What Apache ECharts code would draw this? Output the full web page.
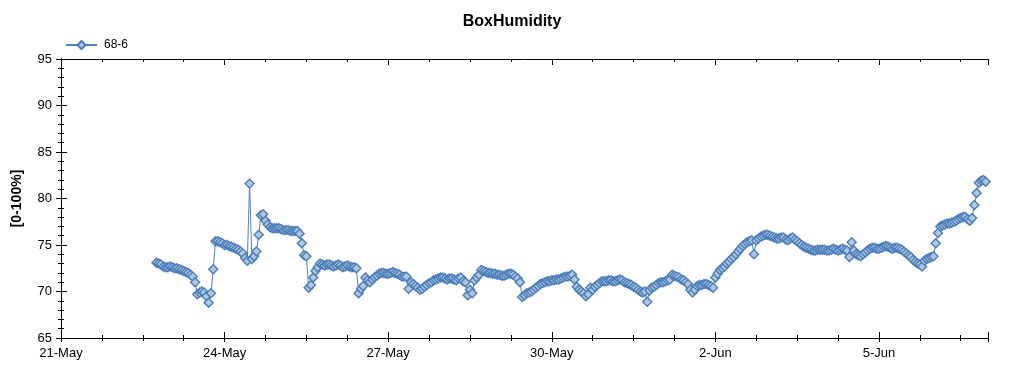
<!DOCTYPE html>
<html>
<head>
<meta charset="utf-8">
<script src="https://cdn.jsdelivr.net/npm/echarts@6/dist/echarts.min.js"></script>
<style>
html,body{margin:0;padding:0;background:#fff;}
#chart{width:1024px;height:375px;}
</style>
</head>
<body>
<div id="chart"></div>
<script>
// Hourly readings; first reading at hour 42 after 21-May 00:00 (22-May 18:00)
const firstHour = 42;
const humidity = [
  73.1,73.0,72.9,72.7,72.6,72.6,
  72.7,72.6,72.5,72.5,72.4,72.3,72.2,72.1,72.0,71.8,71.6,71.0,69.7,69.9,70.0,69.9,69.5,68.8,69.8,72.4,75.4,75.4,75.3,75.2,
  75.0,75.0,74.9,74.8,74.7,74.6,74.5,74.3,74.1,73.6,73.3,81.6,73.5,73.8,74.3,76.1,78.2,78.3,77.6,77.2,76.9,76.8,76.8,76.8,
  76.8,76.7,76.6,76.6,76.6,76.5,76.5,76.5,76.5,76.2,75.2,73.9,73.8,70.4,70.7,71.5,72.2,72.6,73.0,72.9,72.8,72.9,72.9,72.8,
  72.7,72.8,72.9,72.8,72.6,72.7,72.8,72.7,72.6,72.6,72.5,69.8,70.3,70.6,71.5,71.2,71.0,71.3,71.5,71.7,71.9,72.0,72.0,71.9,
  71.9,72.0,72.1,72.0,71.9,71.8,71.6,71.6,71.6,70.3,71.0,70.8,70.6,70.4,70.2,70.3,70.5,70.7,70.9,71.0,71.2,71.3,71.4,71.5,
  71.5,71.4,71.3,71.4,71.4,71.3,71.2,71.4,71.5,71.1,71.0,69.6,70.2,69.8,71.2,71.5,71.8,72.3,72.2,72.1,72.0,72.0,71.9,71.9,
  71.8,71.8,71.7,71.7,71.8,71.9,71.9,71.8,71.6,71.4,71.0,69.4,69.6,69.8,69.9,70.0,70.2,70.4,70.6,70.8,70.9,71.0,71.1,71.1,
  71.2,71.2,71.3,71.3,71.4,71.5,71.6,71.6,71.7,71.8,71.3,70.5,70.2,70.0,69.8,69.5,69.7,70.4,70.2,70.5,70.7,70.9,71.1,71.1,
  71.1,71.2,71.2,71.1,71.1,71.2,71.3,71.2,71.0,70.9,70.8,70.7,70.5,70.4,70.2,70.0,69.9,70.0,68.9,70.1,70.4,70.5,70.7,70.9,
  71.0,71.0,71.1,71.2,71.3,71.8,71.7,71.6,71.5,71.3,71.2,71.0,70.8,70.2,69.9,70.2,70.6,70.7,70.7,70.8,70.8,70.7,70.6,70.4,
  71.5,71.9,72.3,72.5,72.7,73.0,73.2,73.5,73.7,74.0,74.3,74.6,74.9,75.1,75.3,75.4,75.5,74.0,75.5,75.7,75.9,76.0,76.1,76.1,
  76.0,75.9,75.8,75.7,75.7,75.8,75.8,75.6,75.5,75.7,75.8,75.6,75.4,75.2,75.0,74.8,74.7,74.6,74.5,74.4,74.4,74.5,74.5,74.5,
  74.5,74.4,74.4,74.5,74.6,74.5,74.4,74.5,74.6,74.5,74.4,73.7,75.3,74.4,74.0,73.9,73.8,74.0,74.2,74.4,74.6,74.7,74.7,74.6,
  74.6,74.7,74.8,74.9,74.8,74.7,74.6,74.7,74.7,74.6,74.5,74.3,74.1,73.9,73.7,73.4,73.2,73.0,72.9,72.7,73.3,73.5,73.6,73.7,
  73.8,75.2,76.3,77.0,77.1,77.2,77.3,77.3,77.4,77.5,77.6,77.8,77.9,78.0,78.0,77.8,77.6,77.9,79.3,80.6,81.7,81.9,82.0,81.8
];
const tickLabels = ['21-May','24-May','27-May','30-May','2-Jun','5-Jun'];
const seriesName = '68-6';

const data = humidity.map((v, i) => [firstHour + i, v]);
const FONT = '"Liberation Sans", Arial, sans-serif';
const black = '#000';

const xBase = {
  type: 'value', min: 0, max: 408, interval: 72,
  splitLine: { show: false },
  axisLine: { show: true, lineStyle: { color: black, width: 1 } }
};
const yBase = {
  type: 'value', min: 65, max: 95, interval: 5,
  splitLine: { show: false },
  axisLine: { show: true, lineStyle: { color: black, width: 1 } }
};

const chart = echarts.init(document.getElementById('chart'), null, { renderer: 'canvas' });
chart.setOption({
  animation: false,
  backgroundColor: '#fff',
  title: {
    text: 'BoxHumidity', left: 'center', top: 9,
    textStyle: { fontFamily: FONT, fontSize: 16, fontWeight: 'bold', color: black }
  },
  legend: {
    left: 65, top: 39, padding: 0,
    itemWidth: 31, itemHeight: 10, 
    textStyle: { fontFamily: FONT, fontSize: 12, color: black, padding: [0, 0, 0, 2] },
    data: [seriesName]
  },
  grid: { left: 61, right: 36, top: 59, bottom: 37, containLabel: false },
  xAxis: [
    Object.assign({}, xBase, {
      position: 'bottom',
      axisTick: { show: true, inside: true, length: 6, lineStyle: { color: black } },
      minorTick: { show: true, splitNumber: 4, length: 3, lineStyle: { color: black } },
      axisLabel: {
        show: true, margin: 9, showMaxLabel: false, color: black,
        fontFamily: FONT, fontSize: 13,
        formatter: v => tickLabels[Math.round(v / 72)] || ''
      }
    }),
    Object.assign({}, xBase, {
      position: 'bottom',
      axisTick: { show: true, inside: false, length: 4, lineStyle: { color: black } },
      minorTick: { show: true, splitNumber: 4, length: 3, lineStyle: { color: black } },
      axisLabel: { show: false }
    }),
    Object.assign({}, xBase, {
      position: 'top',
      axisTick: { show: true, inside: true, length: 6, lineStyle: { color: black } },
      minorTick: { show: true, splitNumber: 4, length: 3, lineStyle: { color: black } },
      axisLabel: { show: false }
    })
  ],
  yAxis: [
    Object.assign({}, yBase, {
      position: 'left',
      name: '[0-100%]', nameLocation: 'middle', nameGap: 37, nameRotate: 90,
      nameTextStyle: { fontFamily: FONT, fontSize: 14, fontWeight: 'bold', color: black },
      axisTick: { show: true, inside: false, length: 4, lineStyle: { color: black } },
      minorTick: { show: true, splitNumber: 5, length: 3, lineStyle: { color: black } },
      axisLabel: { show: true, margin: 9, color: black, fontFamily: FONT, fontSize: 13 }
    }),
    Object.assign({}, yBase, {
      position: 'left',
      axisTick: { show: true, inside: true, length: 6, lineStyle: { color: black } },
      minorTick: { show: true, splitNumber: 5, length: 3, lineStyle: { color: black } },
      axisLabel: { show: false }
    }),
    Object.assign({}, yBase, {
      position: 'right',
      axisTick: { show: true, inside: true, length: 5, lineStyle: { color: black } },
      minorTick: { show: true, splitNumber: 5, length: 3, lineStyle: { color: black } },
      axisLabel: { show: false }
    })
  ],
  series: [{
    name: seriesName,
    type: 'line',
    xAxisIndex: 0, yAxisIndex: 0,
    data: data,
    showAllSymbol: true,
    symbol: 'diamond',
    symbolSize: 9,
    lineStyle: { color: '#4F81BD', width: 1 },
    itemStyle: { color: '#B0C6DE', borderColor: '#4A7DBA', borderWidth: 1.4 }
  }]
});
</script>
</body>
</html>
